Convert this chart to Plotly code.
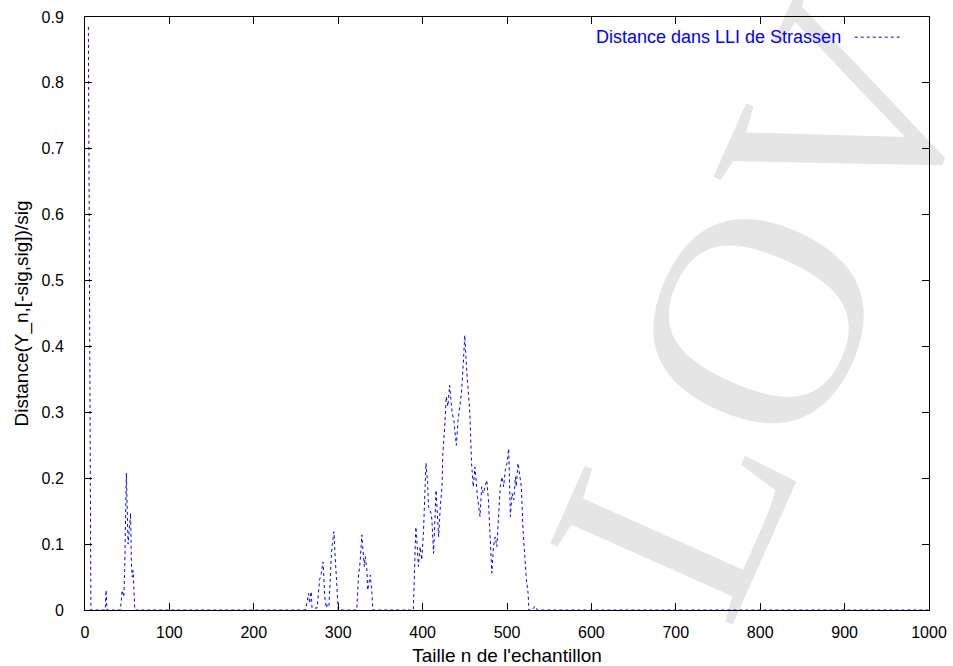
import plotly.graph_objects as go

# Sample size n and normalised distance values
n_values = [4, 5, 7, 24, 25, 26, 42, 44, 46, 47, 49, 51, 52, 54, 55, 56, 57, 58, 59,
            261, 262, 265, 266, 268, 269, 275, 277, 278, 280, 282, 283, 284, 286, 287,
            289, 290, 292, 293, 295, 296, 297, 299, 300,
            322, 324, 326, 328, 329, 331, 332, 334, 335, 337, 338, 340, 341,
            389, 392, 393, 395, 397, 399, 401, 404, 406, 407, 410, 411, 413, 415, 416,
            417, 419, 421, 423, 424, 426, 428, 430, 432, 434, 435, 437, 438, 440, 442,
            444, 446, 448, 450, 452, 456, 458, 460, 462, 463, 465, 468, 470, 472, 474,
            476, 478, 480, 482, 484, 486, 488, 490, 492, 494, 496, 498, 500, 502, 503,
            504, 506, 508, 510, 511, 513, 515, 517, 519, 521, 523, 525, 526, 530, 533,
            536, 1000]
dist_values = [0.885, 0.65, 0.0, 0.0, 0.03, 0.0, 0.0, 0.03, 0.02, 0.06, 0.208, 0.10, 0.12,
               0.147, 0.07, 0.05, 0.06, 0.02, 0.0,
               0.0, 0.005, 0.025, 0.01, 0.028, 0.003, 0.003, 0.03, 0.046, 0.056, 0.073,
               0.05, 0.02, 0.003, 0.008, 0.005, 0.04, 0.086, 0.099, 0.119, 0.091, 0.071,
               0.035, 0.0,
               0.0, 0.05, 0.073, 0.114, 0.096, 0.066, 0.081, 0.061, 0.03, 0.046, 0.053,
               0.025, 0.0,
               0.0, 0.126, 0.111, 0.066, 0.096, 0.076, 0.117, 0.223, 0.192, 0.157, 0.147,
               0.137, 0.086, 0.137, 0.182, 0.157, 0.111, 0.157, 0.187, 0.238, 0.273,
               0.324, 0.309, 0.341, 0.319, 0.299, 0.288, 0.273, 0.25, 0.288, 0.309, 0.329,
               0.369, 0.417, 0.369, 0.299, 0.223, 0.187, 0.217, 0.197, 0.172, 0.142,
               0.187, 0.177, 0.187, 0.197, 0.167, 0.116, 0.056, 0.096, 0.111, 0.096,
               0.147, 0.187, 0.202, 0.187, 0.212, 0.223, 0.245, 0.177, 0.142, 0.177,
               0.167, 0.202, 0.187, 0.223, 0.202, 0.187, 0.121, 0.076, 0.046, 0.025, 0.0,
               0.0, 0.006, 0.0, 0.0]

x_ticks = [0, 100, 200, 300, 400, 500, 600, 700, 800, 900, 1000]
y_ticks = [0, 0.1, 0.2, 0.3, 0.4, 0.5, 0.6, 0.7, 0.8, 0.9]

series_name = "Distance dans LLI de Strassen"
x_title = "Taille n de l'echantillon"
y_title = "Distance(Y_n,[-sig,sig])/sig"
watermark = "LOV"

BLUE = "#0000ff"
FONT = "Liberation Sans"

fig = go.Figure()
fig.add_trace(go.Scatter(
    x=n_values, y=dist_values, mode="lines", name=series_name,
    line=dict(color=BLUE, width=1, dash="3px,3px"), showlegend=False,
))

fig.update_layout(
    width=953, height=666,
    margin=dict(l=85, r=24, t=17, b=56, autoexpand=False),
    paper_bgcolor="white",
    plot_bgcolor="rgba(0,0,0,0)",
    font=dict(family=FONT, size=16, color="black"),
    xaxis=dict(
        range=[0, 1000], tickvals=x_ticks, ticks="inside", ticklen=7,
        tickcolor="black", showline=True, linecolor="black", linewidth=1,
        mirror="ticks", showgrid=False, zeroline=False, automargin=False,
        ticklabelstandoff=8,
        title=dict(text=x_title, standoff=14),
    ),
    yaxis=dict(
        range=[0, 0.9], tickvals=y_ticks, ticks="inside", ticklen=7,
        tickcolor="black", showline=True, linecolor="black", linewidth=1,
        mirror="ticks", showgrid=False, zeroline=False, automargin=False,
        ticklabelstandoff=17,
        title=dict(text=y_title, standoff=7),
    ),
    shapes=[
        dict(type="rect", xref="paper", yref="paper", x0=0.757, x1=0.777,
             y0=0.528, y1=0.548, line=dict(width=0), fillcolor="rgba(0,0,0,0)",
             layer="below",
             label=dict(text=watermark, textangle=-66, textposition="middle center",
                        font=dict(family="Liberation Serif", size=305, color="#e5e5e5"))),
        dict(type="line", xref="paper", yref="paper", x0=0.912, x1=0.969,
             y0=0.966, y1=0.966, line=dict(color=BLUE, width=1, dash="3px,3px")),
    ],
    annotations=[
        dict(text=series_name, xref="paper", yref="paper", x=0.898, y=0.966,
             xanchor="right", yanchor="middle", showarrow=False,
             font=dict(color=BLUE, size=18, family=FONT)),
    ],
)

fig.write_html("out.html")
